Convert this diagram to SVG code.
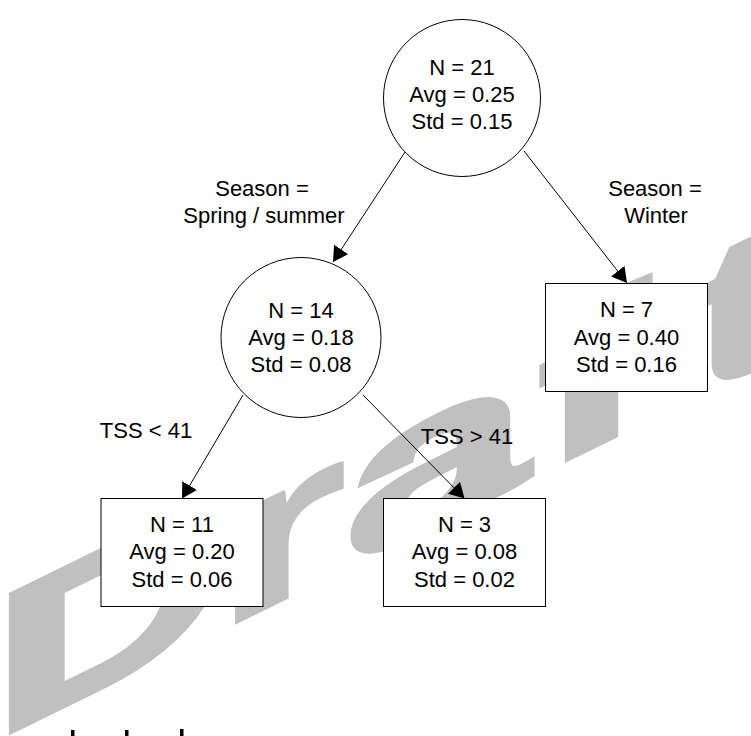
<svg xmlns="http://www.w3.org/2000/svg" width="751" height="736" viewBox="0 0 751 736">
  <style>
    .wm { font-family: "Liberation Sans", Arial, sans-serif; font-weight: bold; fill: #c0c0c0; stroke: #c0c0c0; stroke-width: 5; stroke-linejoin: miter; }
    .t { font-family: "Liberation Sans", Arial, sans-serif; font-size: 22px; fill: #000; text-anchor: middle; }
    .node { fill: #fff; stroke: #000; stroke-width: 1; }
    .edge { fill: none; stroke: #000; stroke-width: 1; }
  </style>
  <defs>
    <marker id="arrow" viewBox="0 0 15 17" refX="15" refY="8.5" markerWidth="15" markerHeight="17" markerUnits="userSpaceOnUse" orient="auto">
      <path d="M0,0 L15,8.5 L0,17 z" fill="#000"/>
    </marker>
  </defs>
  <rect x="0" y="0" width="751" height="736" fill="#fff"/>
  <g id="watermark">
    <text class="wm" font-size="200" transform="matrix(1.65,-0.8085,0,1,0,737.4)" x="-5.5 131 209 326 418" y="0">Draft</text>
  </g>
  <g id="connectors">
    <line class="edge" x1="405" y1="152" x2="333" y2="262" marker-end="url(#arrow)"/>
    <line class="edge" x1="524" y1="151" x2="627" y2="283" marker-end="url(#arrow)"/>
    <line class="edge" x1="243" y1="395" x2="182" y2="498.5" marker-end="url(#arrow)"/>
    <line class="edge" x1="363" y1="395" x2="464.5" y2="498.5" marker-end="url(#arrow)"/>
  </g>
  <g id="labels">
    <text class="t" x="262" y="196">Season =</text>
    <text class="t" x="264" y="223">Spring / summer</text>
    <text class="t" x="655" y="196">Season =</text>
    <text class="t" x="656" y="223">Winter</text>
    <text class="t" x="146" y="438">TSS &lt; 41</text>
    <text class="t" x="467" y="444">TSS &gt; 41</text>
  </g>
  <g id="node-root">
    <circle class="node" cx="462" cy="98" r="78.5"/>
    <text class="t" x="462" y="75">N = 21</text>
    <text class="t" x="462" y="102">Avg = 0.25</text>
    <text class="t" x="462" y="129">Std = 0.15</text>
  </g>
  <g id="node-n14">
    <circle class="node" cx="301" cy="337.5" r="80"/>
    <text class="t" x="301" y="318">N = 14</text>
    <text class="t" x="301" y="345">Avg = 0.18</text>
    <text class="t" x="301" y="371.5">Std = 0.08</text>
  </g>
  <g id="node-n7">
    <rect class="node" x="545.5" y="283.5" width="162" height="108"/>
    <text class="t" x="626.5" y="317">N = 7</text>
    <text class="t" x="626.5" y="344.5">Avg = 0.40</text>
    <text class="t" x="626.5" y="371.5">Std = 0.16</text>
  </g>
  <g id="node-n11">
    <rect class="node" x="101" y="498.5" width="162" height="108"/>
    <text class="t" x="182" y="532">N = 11</text>
    <text class="t" x="182" y="559">Avg = 0.20</text>
    <text class="t" x="182" y="586.5">Std = 0.06</text>
  </g>
  <g id="node-n3">
    <rect class="node" x="383.5" y="498.5" width="162" height="108"/>
    <text class="t" x="464.5" y="532">N = 3</text>
    <text class="t" x="464.5" y="559">Avg = 0.08</text>
    <text class="t" x="464.5" y="586.5">Std = 0.02</text>
  </g>
  <g id="bottom-marks" fill="#000">
    <rect x="71" y="730" width="3.5" height="6"/>
    <rect x="125" y="730" width="3.5" height="6"/>
    <rect x="180" y="729" width="3.5" height="7"/>
  </g>
</svg>
